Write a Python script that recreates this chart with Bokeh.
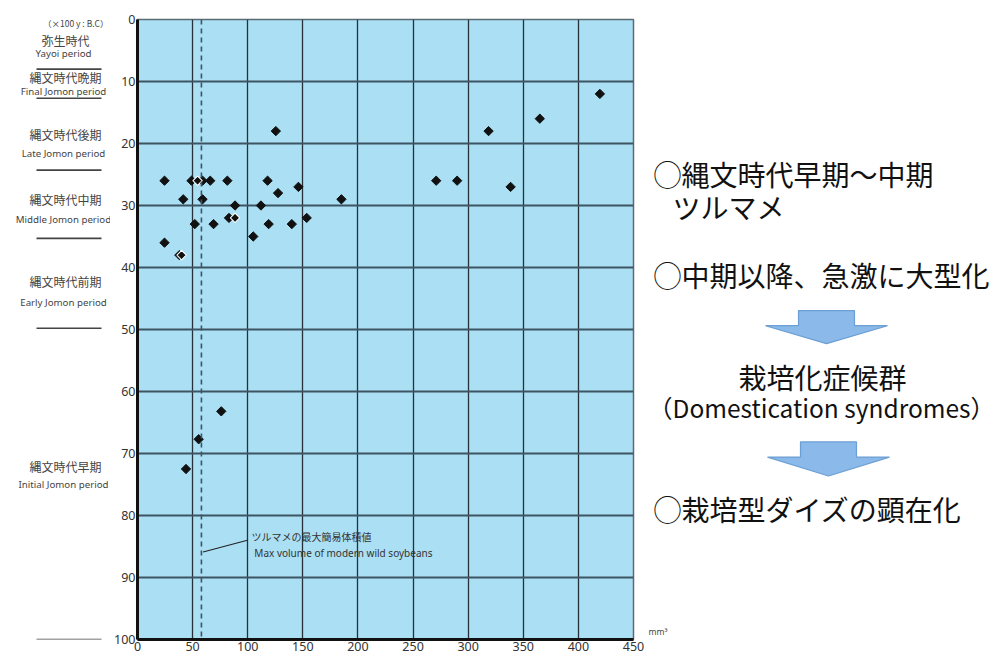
from bokeh.plotting import figure
from bokeh.models import Range1d, FixedTicker, Span, Label, Arrow
from bokeh.layouts import row
from bokeh.embed import file_html
from bokeh.resources import INLINE
from bokeh.core.properties import value

# ---------------- data ----------------
X_TICKS = [0, 50, 100, 150, 200, 250, 300, 350, 400, 450]
Y_TICKS = [0, 10, 20, 30, 40, 50, 60, 70, 80, 90, 100]

# simple volume (mm3) vs age (x100 y B.C.)
BLACK_X = [24.5, 49, 59, 66, 81.5, 118, 271, 290,
           41.5, 59, 127.5, 146, 338.5, 185,
           88.5, 112, 83, 153.5,
           52, 69, 119, 140, 105, 24.5, 38,
           125.5, 318.5, 365, 419.5,
           76, 55.5, 44]
BLACK_Y = [26, 26, 26, 26, 26, 26, 26, 26,
           29, 29, 28, 27, 27, 29,
           30, 30, 32, 32,
           33, 33, 33, 33, 35, 36, 38,
           18, 18, 16, 12,
           63.2, 67.7, 72.5]
OUTLINED_X = [54.5, 88.5, 40]
OUTLINED_Y = [26, 32, 38]

WILD_MAX = 58  # max volume of modern wild soybeans

PERIOD_JA = ["弥生時代", "縄文時代晩期", "縄文時代後期", "縄文時代中期", "縄文時代前期", "縄文時代早期"]
PERIOD_EN = ["Yayoi period", "Final Jomon period", "Late Jomon period",
             "Middle Jomon period", "Early Jomon period", "Initial Jomon period"]
PERIOD_JA_Y = [3.4, 9.3, 18.5, 29.0, 42.2, 72.1]
PERIOD_EN_Y = [5.5, 11.6, 21.6, 32.2, 45.7, 75.0]
PERIOD_BOUNDS = [8.0, 12.7, 24.3, 35.3, 49.8, 100.0]

# ---------------- layout ----------------
H = 656
TOP = 19
BOTTOM = 17
LEFT_W = 110
MAIN_BORDER_L = 27
FRAME_W = 496
MAIN_BORDER_R = 14
MAIN_W = MAIN_BORDER_L + FRAME_W + MAIN_BORDER_R
RIGHT_X0 = LEFT_W + MAIN_W
RIGHT_W = 997 - RIGHT_X0

JA = "Noto Sans CJK JP"
EN = "Noto Sans"

yr = Range1d(100, 0)

# ---- main chart ----
p = figure(width=MAIN_W, height=H, x_range=Range1d(0, 450), y_range=yr,
           output_backend="svg", toolbar_location=None,
           min_border_left=MAIN_BORDER_L, min_border_right=MAIN_BORDER_R,
           min_border_top=TOP, min_border_bottom=BOTTOM,
           background_fill_color="#abdff4", border_fill_color="white")
p.outline_line_color = "#5b6b73"
p.outline_line_width = 1.5

p.xaxis.ticker = FixedTicker(ticks=X_TICKS)
p.yaxis.ticker = FixedTicker(ticks=Y_TICKS)
for ax in (p.xaxis[0], p.yaxis[0]):
    ax.axis_line_width = 3
    ax.axis_line_color = "#111111"
    ax.major_tick_line_color = None
    ax.minor_tick_line_color = None
    ax.major_tick_out = 0
    ax.major_tick_in = 0
    ax.minor_tick_out = 0
    ax.minor_tick_in = 0
    ax.major_label_text_font = EN
    ax.major_label_text_font_size = "12.5px"
    ax.major_label_text_color = "#333333"
    ax.major_label_standoff = 2

p.xgrid.ticker = FixedTicker(ticks=X_TICKS)
p.ygrid.ticker = FixedTicker(ticks=Y_TICKS)
p.xgrid.grid_line_color = "#26313a"
p.xgrid.grid_line_width = 1.3
p.ygrid.grid_line_color = "#3d5462"
p.ygrid.grid_line_width = 1.8

p.add_layout(Span(location=WILD_MAX, dimension="height", line_color="#3d5462",
                  line_width=1.6, line_dash="5 4"))

p.scatter(BLACK_X, BLACK_Y, marker="square", angle=0.785398, size=6.6,
          fill_color="#111111", line_color="#111111")
p.scatter(OUTLINED_X, OUTLINED_Y, marker="square", angle=0.785398, size=6.6,
          fill_color="#111111", line_color="white", line_width=1.1)

# leader line + note for the wild soybean limit
p.add_layout(Arrow(end=None, x_start=WILD_MAX + 1.5, y_start=85.9, x_end=99.7, y_end=84.0,
                   line_color="#222222", line_width=1.1))
p.add_layout(Label(x=103.5, y=83.4, text="ツルマメの最大簡易体積値",
                   text_font=JA, text_font_size="10px", text_color="#333333",
                   text_baseline="middle"))
p.add_layout(Label(x=106, y=86.1, text="Max volume of  modern wild soybeans",
                   text_font=EN, text_font_size="10px", text_color="#333333",
                   text_baseline="middle"))

# ---- left panel: period names (x in page pixels, y shared with chart) ----
lp = figure(width=LEFT_W, height=H, x_range=Range1d(0, LEFT_W), y_range=yr,
            output_backend="svg", toolbar_location=None, x_axis_type=None, y_axis_type=None,
            min_border_left=0, min_border_right=0, min_border_top=TOP, min_border_bottom=BOTTOM,
            outline_line_color=None)
lp.grid.visible = False
n = len(PERIOD_JA)
lp.text(x=[65] * n, y=PERIOD_JA_Y, text=PERIOD_JA, text_font=value(JA),
        text_font_size="12px", text_color="#444444", text_align="center",
        text_baseline="middle")
lp.text(x=[63] * n, y=PERIOD_EN_Y, text=PERIOD_EN, text_font=value(EN),
        text_font_size="9.7px", text_color="#444444", text_align="center",
        text_baseline="middle")
lp.segment(x0=[36] * len(PERIOD_BOUNDS), x1=[101] * len(PERIOD_BOUNDS),
           y0=PERIOD_BOUNDS, y1=PERIOD_BOUNDS, line_color="#444444", line_width=1.6)
lp.text(x=[108], y=[0.6], text=["（×100 y : B.C）"], text_font=value(JA),
        text_font_size="8.5px", text_color="#444444", text_align="right",
        text_baseline="middle")

# ---- right panel: commentary (page pixel coordinates) ----
r = figure(width=RIGHT_W, height=H, x_range=Range1d(RIGHT_X0, 997), y_range=Range1d(H, 0),
           output_backend="svg", toolbar_location=None, x_axis_type=None, y_axis_type=None,
           min_border=0, outline_line_color=None)
r.grid.visible = False

r.text(x=[653, 672, 653], y=[163, 198, 270],
       text=["◯縄文時代早期〜中期", "ツルマメ", "◯中期以降、急激に大型化"],
       text_font=value(JA), text_font_size="28px", text_color="#111111",
       text_baseline="middle", text_align="left")
r.text(x=[822], y=[378], text=["栽培化症候群"],
       text_font=value(JA), text_font_size="28px", text_color="#111111",
       text_baseline="middle", text_align="center")
r.text(x=[821], y=[410], text=["（Domestication syndromes）"],
       text_font=value(JA), text_font_size="24.5px", text_color="#111111",
       text_baseline="middle", text_align="center")
r.text(x=[653], y=[518], text=["◯栽培型ダイズの顕在化"],
       text_font=value(JA), text_font_size="28px", text_color="#111111",
       text_baseline="middle", text_align="left")


def block_arrow(cxp, top, neck, tip, sw=28, hw=61):
    xs = [cxp - sw, cxp + sw, cxp + sw, cxp + hw, cxp, cxp - hw, cxp - sw]
    ys = [top, top, neck, neck, tip, neck, neck]
    return xs, ys


a1 = block_arrow(826, 308, 324, 343)
a2 = block_arrow(828, 447, 463, 483)
r.patches([a1[0], a2[0]], [a1[1], a2[1]], fill_color="#8ab9ea", line_color="#6c9fd4",
          line_width=1.2)

r.text(x=[RIGHT_X0 + 1], y=[648], text=["mm³"], text_font=value(EN), text_font_size="8.5px",
       text_color="#444444", text_baseline="middle", text_align="left")

layout = row(lp, p, r)
open("out.html", "w").write(file_html(layout, INLINE))
